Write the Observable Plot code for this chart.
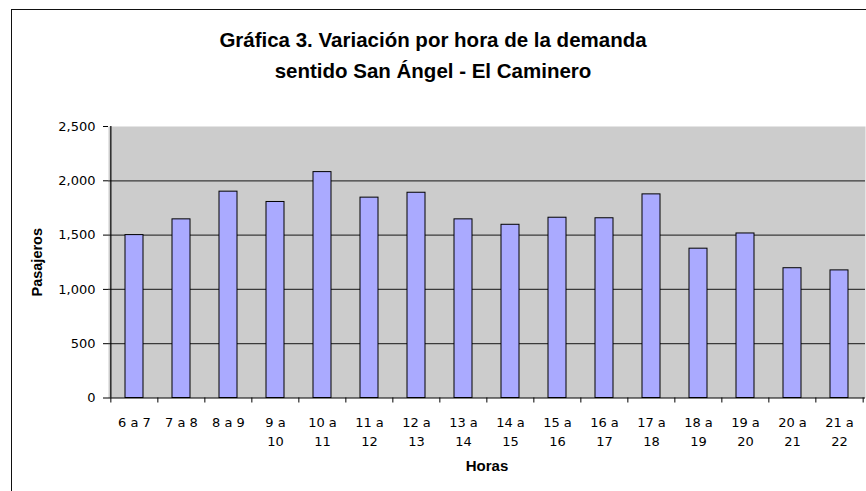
<!DOCTYPE html>
<html>
<head>
<meta charset="utf-8">
<script src="https://cdn.jsdelivr.net/npm/d3@7"></script>
<script src="https://cdn.jsdelivr.net/npm/@observablehq/plot@0.6"></script>
<style>
  html, body { margin: 0; padding: 0; background: #fff; }
  #wrap { position: relative; width: 866px; height: 491px; overflow: hidden; }
  #border { position: absolute; left: 11px; top: 9px; width: 900px; height: 600px;
            border-left: 1.5px solid #111; border-top: 1.5px solid #111; box-sizing: border-box; }
  #title { position: absolute; left: 0; top: 23.5px; width: 866px; text-align: center;
           font-family: "Liberation Sans", Arial, sans-serif; font-weight: bold; font-size: 20.5px;
           line-height: 31px; color: #000; }
  #chart { position: absolute; left: 0; top: 0; }
</style>
</head>
<body>
<div id="wrap">
  <div id="border"></div>
  <div id="chart"></div>
  <div id="title">Gráfica 3. Variación por hora de la demanda<br>sentido San Ángel - El Caminero</div>
</div>
<script>
const categories = ["6 a 7","7 a 8","8 a 9","9 a 10","10 a 11","11 a 12","12 a 13","13 a 14",
                    "14 a 15","15 a 16","16 a 17","17 a 18","18 a 19","19 a 20","20 a 21","21 a 22"];
const pasajeros = [1500, 1645, 1900, 1805, 2080, 1845, 1890, 1645,
                   1595, 1660, 1655, 1875, 1375, 1515, 1195, 1175];
const xTickLabels = ["6 a 7","7 a 8","8 a 9","9 a\n10","10 a\n11","11 a\n12","12 a\n13","13 a\n14",
                     "14 a\n15","15 a\n16","16 a\n17","17 a\n18","18 a\n19","19 a\n20","20 a\n21","21 a\n22"];
const yTicks = [0, 500, 1000, 1500, 2000, 2500];
const gridValues = [500, 1000, 1500, 2000];

const data = categories.map((c, i) => ({cat: c, value: pasajeros[i]}));

const W = 866, H = 491;
const mL = 108, mR = 1, mT = 126, mB = 93.5;
const step = (W - mL - mR) / categories.length;

const chart = Plot.plot({
  width: W,
  height: H,
  marginLeft: mL,
  marginRight: mR,
  marginTop: mT,
  marginBottom: mB,
  style: {fontFamily: "DejaVu Sans, sans-serif", fontSize: "13px", color: "#000", background: "transparent"},
  x: {type: "band", domain: categories, paddingInner: 0.62, paddingOuter: 0.31, label: null},
  y: {domain: [0, 2500], label: null},
  marks: [
    Plot.frame({fill: "#cccccc", stroke: null}),
    Plot.ruleY(gridValues, {stroke: "#3a3a3a", strokeWidth: 1.3}),
    Plot.barY(data, {x: "cat", y: "value", fill: "#aaaaff", stroke: "#000", strokeWidth: 1}),
    Plot.ruleY([0], {stroke: "#000", strokeWidth: 1.2}),
    Plot.ruleX([categories[0]], {y1: 0, y2: 2500, dx: -step / 2, stroke: "#000", strokeWidth: 1.2}),
    Plot.axisY({ticks: yTicks, tickFormat: d3.format(","), tickSize: 5, tickPadding: 8, label: null}),
    Plot.axisX({ticks: categories, tickSize: 5, tickFormat: () => "", dx: -step / 2, label: null}),
    Plot.axisX({ticks: [categories[categories.length - 1]], tickSize: 5, tickFormat: () => "", dx: step / 2, label: null}),
    Plot.axisX({ticks: categories, tickSize: 0, tickPadding: 15, lineHeight: 1.5,
                tickFormat: (d) => xTickLabels[categories.indexOf(d)], label: null}),
    Plot.text(["Pasajeros"], {frameAnchor: "left", textAnchor: "middle", dx: -71, rotate: -90, fontWeight: "bold",
                fontSize: 14.5, fontFamily: "Liberation Sans, Arial, sans-serif"}),
    Plot.text(["Horas"], {frameAnchor: "bottom", dy: 73, fontWeight: "bold",
                fontSize: 15, fontFamily: "Liberation Sans, Arial, sans-serif"})
  ]
});
document.getElementById("chart").appendChild(chart);
</script>
</body>
</html>
